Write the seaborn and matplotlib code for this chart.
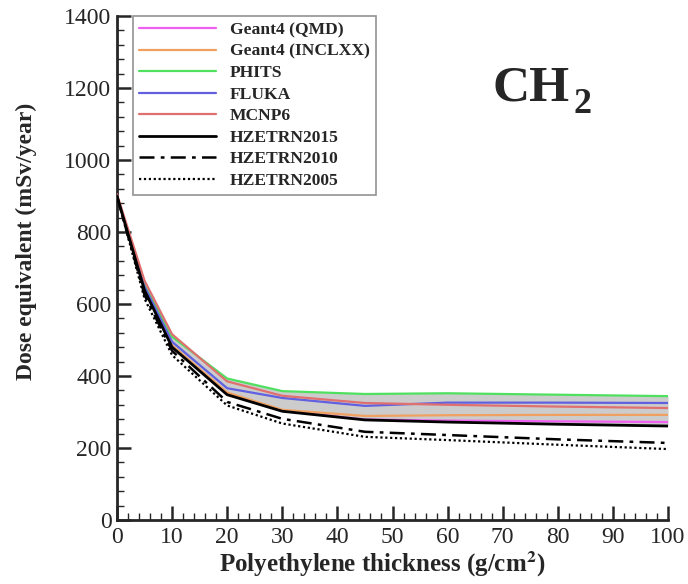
import numpy as np
import pandas as pd
import matplotlib
matplotlib.use("Agg")
import matplotlib.pyplot as plt
import seaborn as sns
from matplotlib.ticker import MultipleLocator

# ---- data ----
thickness = [0, 5, 10, 20, 30, 45, 60, 80, 100]
geant4_qmd = [900, 640, 482, 351, 303, 279, 276, 274, 272]
geant4_inclxx = [900, 640, 485, 354, 306, 289, 291, 292, 292]
phits = [900, 652, 509, 393, 358, 350, 352, 348, 344]
fluka = [900, 648, 495, 366, 339, 317, 326, 326, 325]
mcnp6 = [905, 665, 516, 385, 345, 325, 320, 315, 311]
hzetrn2015 = [900, 638, 480, 348, 302, 278, 272, 266, 261]
hzetrn2010 = [900, 625, 470, 328, 281, 245, 236, 224, 214]
hzetrn2005 = [900, 615, 458, 318, 268, 231, 222, 209, 197]

series_names = ["Geant4 (QMD)", "Geant4 (INCLXX)", "PHITS", "FLUKA", "MCNP6",
                "HZETRN2015", "HZETRN2010", "HZETRN2005"]
series_vals = [geant4_qmd, geant4_inclxx, phits, fluka, mcnp6,
               hzetrn2015, hzetrn2010, hzetrn2005]

styles = {
    "Geant4 (QMD)": dict(color="#f060f0", lw=1.6, ls="-"),
    "Geant4 (INCLXX)": dict(color="#f0a060", lw=1.6, ls="-"),
    "PHITS": dict(color="#50e060", lw=1.6, ls="-"),
    "FLUKA": dict(color="#6060e0", lw=1.6, ls="-"),
    "MCNP6": dict(color="#e07070", lw=1.6, ls="-"),
    "HZETRN2015": dict(color="black", lw=2.0, ls="-"),
    "HZETRN2010": dict(color="black", lw=1.8, ls=(0, (6, 2.5, 1.5, 2.5))),
    "HZETRN2005": dict(color="black", lw=1.6, ls=(0, (1, 1.2))),
}

sns.set_style("ticks")
plt.rcParams["font.family"] = ["Liberation Serif", "DejaVu Serif"]
plt.rcParams["mathtext.fontset"] = "stix"

fig = plt.figure(figsize=(6.88, 5.84), dpi=100)
ax = fig.add_axes([0.170, 0.1096, 0.801, 0.863])

# gray band between max and min of MC codes + HZETRN2015
band = np.array([geant4_qmd, geant4_inclxx, phits, fluka, mcnp6, hzetrn2015])
ax.fill_between(thickness, band.min(axis=0), band.max(axis=0),
                color="#cccccc", zorder=1, lw=0)

for name, vals in zip(series_names, series_vals):
    st = styles[name]
    df = pd.DataFrame({"x": thickness, "y": vals})
    sns.lineplot(data=df, x="x", y="y", ax=ax, color=st["color"],
                 lw=st["lw"], linestyle=st["ls"], label=name, zorder=3)

ax.set_xlim(0, 100)
ax.set_ylim(0, 1400)
ax.xaxis.set_major_locator(MultipleLocator(10))
ax.xaxis.set_minor_locator(MultipleLocator(2))
ax.yaxis.set_major_locator(MultipleLocator(200))
ax.yaxis.set_minor_locator(MultipleLocator(40))
ax.tick_params(which="major", direction="in", length=10, width=1.8,
               labelsize=17, pad=4)
ax.tick_params(axis="x", which="major", pad=5)
ax.tick_params(which="minor", direction="in", length=5, width=1.0)
for s in ["top", "right"]:
    ax.spines[s].set_visible(False)
for s in ["left", "bottom"]:
    ax.spines[s].set_linewidth(2)

ax.set_xlabel("Polyethylene thickness (g/cm$^{\\mathbf{2}}$)", fontsize=18,
              fontweight="bold")
ax.set_ylabel("Dose equivalent (mSv/year)", fontsize=17, fontweight="bold")
ax.xaxis.set_label_coords(0.481, -0.058)
ax.yaxis.set_label_coords(-0.146, 0.553)

leg = ax.legend(loc="upper left", bbox_to_anchor=(0.029, 1.0),
                borderaxespad=0.0,
                prop=dict(family="Liberation Serif", weight="bold", size=12.6),
                handlelength=4.4, handletextpad=0.8, labelspacing=0.3,
                borderpad=0.35, fancybox=False, frameon=True)
leg.get_frame().set_edgecolor("#777777")
leg.get_frame().set_linewidth(1.2)

ax.text(0.682, 0.833, "CH", transform=ax.transAxes,
        fontsize=37, fontweight="bold", ha="left", va="baseline")
ax.text(0.829, 0.808, "2", transform=ax.transAxes,
        fontsize=26, fontweight="bold", ha="left", va="baseline")

fig.savefig("out.png", dpi=100)
